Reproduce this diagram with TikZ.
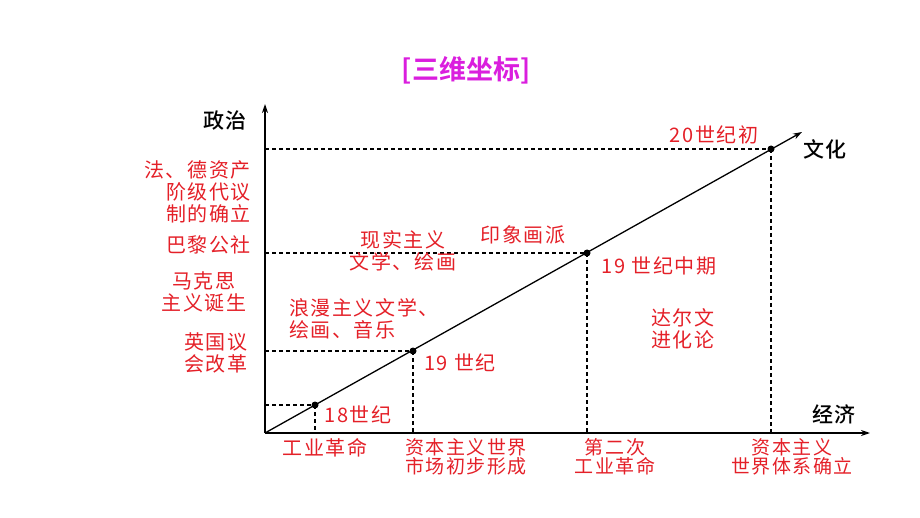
\documentclass[tikz,border=0pt]{standalone}
\usepackage{fontspec}
\setmainfont{Noto Sans CJK SC}
\newfontfamily\labfont[LetterSpace=8]{Noto Sans CJK SC}
\newfontfamily\blkfont[LetterSpace=4]{Noto Sans CJK SC Medium}
\newfontfamily\ttlfont{Noto Sans CJK SC Bold}
\usetikzlibrary{arrows.meta}
\definecolor{labred}{RGB}{228,32,40}
\definecolor{ttlmag}{RGB}{218,30,222}
\begin{document}
\begin{tikzpicture}[x=1pt,y=-1pt,
  axisline/.style={line width=1.8pt,-{Stealth[length=9pt,width=6pt]}},
  diagline/.style={line width=1.3pt,-{Stealth[length=9pt,width=6pt]}},
  dashline/.style={line width=1.1pt,dash pattern=on 4pt off 3pt},
  dot/.style={circle,fill=black,inner sep=0pt,minimum size=7pt},
  redlab/.style={text=labred,inner sep=0pt,align=center,font=\labfont\fontsize{20}{22}\selectfont},
  redlabB/.style={text=labred,inner sep=0pt,align=center,font=\labfont\fontsize{19}{19}\selectfont},
  blklab/.style={text=black,inner sep=0pt,font=\blkfont\fontsize{21}{24}\selectfont},
  ttl/.style={text=ttlmag,inner sep=0pt,font=\ttlfont\fontsize{27}{30}\selectfont}]
\useasboundingbox (0,0) rectangle (920,518);
% axes
\coordinate (O) at (265,433);
\coordinate (Ytop) at (265,104);
\coordinate (Xend) at (870,433);
\coordinate (Dend) at (802,132);
\draw[axisline] (O) -- (Ytop);
\draw[axisline] (O) -- (Xend);
\draw[diagline] (O) -- (Dend);
% points
\node[dot] (p1) at (315,405) {};
\node[dot] (p2) at (413,351) {};
\node[dot] (p3) at (587,253) {};
\node[dot] (p4) at (771,149) {};
\foreach \p in {p1,p2,p3,p4}{
  \draw[dashline] (\p.center -| O) -- (\p.center);
  \draw[dashline] (\p.center) -- (\p.center |- O);
}
% title
\node[ttl] (title) at (466,70) {[三维坐标]};
% axis names
\node[blklab] (zz) at (225,121) {政治};
\node[blklab] (wh) at (825,149) {文化};
\node[blklab] (jj) at (834,414) {经济};
% left labels
\node[redlab,align=right,anchor=east] (l1) at (251,192) {法、德资产\\阶级代议\\制的确立};
\node[redlab,anchor=east] (l2) at (251,245) {巴黎公社};
\node[redlab] (l3) at (204,292) {马克思\\主义诞生};
\node[redlab] (l4) at (216,353) {英国议\\会改革};
% bottom labels
\node[redlab] (b1) at (325,448) {工业革命};
\node[redlabB] (b2) at (466,457) {资本主义世界\\市场初步形成};
\node[redlabB] (b3) at (615,457) {第二次\\工业革命};
\node[redlabB] (b4) at (792,457) {资本主义\\世界体系确立};
% inner labels
\node[redlab] (t1) at (358,415) {18世纪};
\node[redlab] (t2) at (460,363) {19 世纪};
\node[redlab] (t3) at (659,266) {19 世纪中期};
\node[redlab] (t4) at (714,135) {20世纪初};
\node[redlab,align=left,anchor=west] (c1) at (289,319) {浪漫主义文学、\\绘画、音乐};
\node[redlab] (c2) at (403,251) {现实主义\\文学、绘画};
\node[redlab] (c3) at (523,235) {印象画派};
\node[redlab] (c4) at (683,329) {达尔文\\进化论};
\end{tikzpicture}
\end{document}
